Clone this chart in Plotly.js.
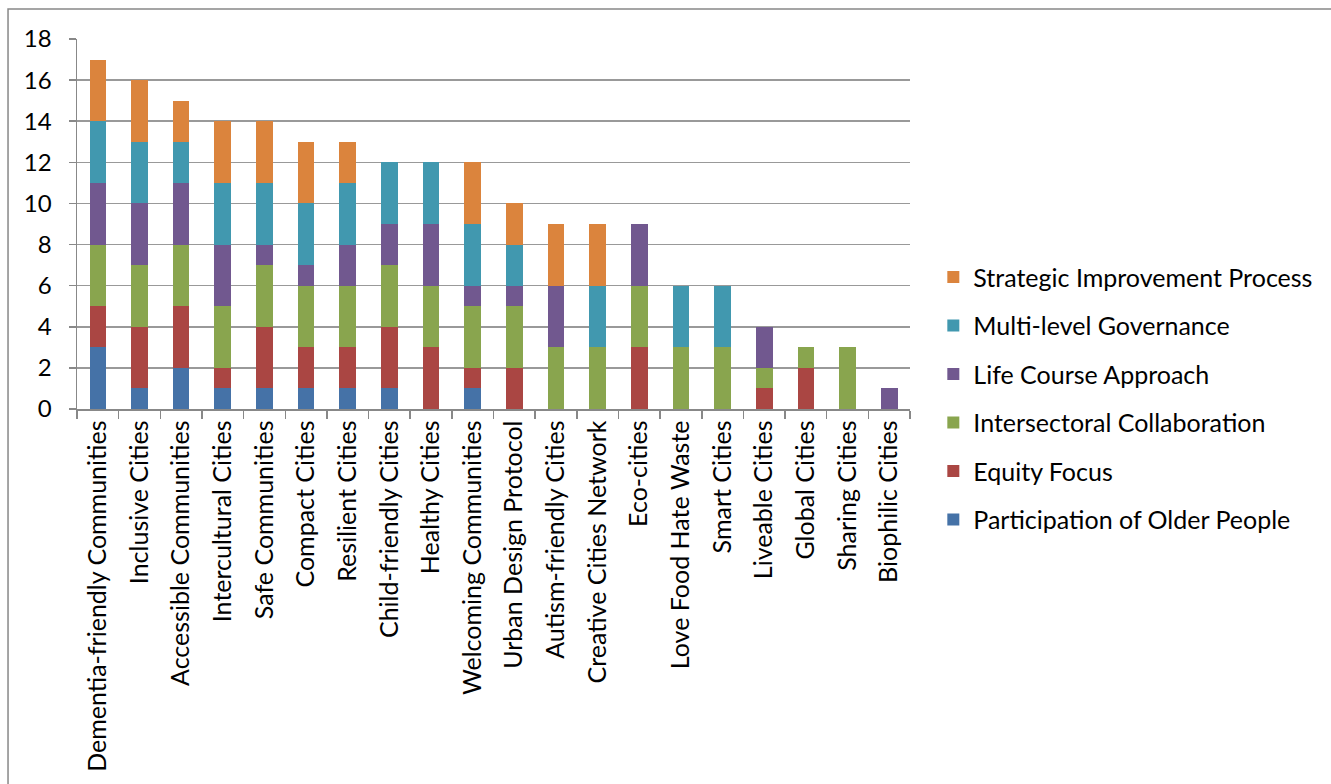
<!DOCTYPE html>
<html>
<head>
<meta charset="utf-8">
<script src="https://cdn.plot.ly/plotly-3.0.1.min.js"></script>
<style>html,body{margin:0;padding:0;background:#fff;}#chart{width:1331px;height:784px;}</style>
</head>
<body>
<div id="chart"></div>
<script>
const categories = ["Dementia-friendly Communities","Inclusive Cities","Accessible Communities","Intercultural Cities","Safe Communities","Compact Cities","Resilient Cities","Child-friendly Cities","Healthy Cities","Welcoming Communities","Urban Design Protocol","Autism-friendly Cities","Creative Cities Network","Eco-cities","Love Food Hate Waste","Smart Cities","Liveable Cities","Global Cities","Sharing Cities","Biophilic Cities"];
const participation = [3,1,2,1,1,1,1,1,0,1,0,0,0,0,0,0,0,0,0,0];
const equity        = [2,3,3,1,3,2,2,3,3,1,2,0,0,3,0,0,1,2,0,0];
const intersectoral = [3,3,3,3,3,3,3,3,3,3,3,3,3,3,3,3,1,1,3,0];
const lifeCourse    = [3,3,3,3,1,1,2,2,3,1,1,3,0,3,0,0,2,0,0,1];
const multiLevel    = [3,3,2,3,3,3,3,3,3,3,2,0,3,0,3,3,0,0,0,0];
const strategic     = [3,3,2,3,3,3,2,0,0,3,2,3,3,0,0,0,0,0,0,0];
const yTicks = [0,2,4,6,8,10,12,14,16,18];

const series = [
  {name:"Participation of Older People", y:participation, color:"#4572A7"},
  {name:"Equity Focus", y:equity, color:"#AA4643"},
  {name:"Intersectoral Collaboration", y:intersectoral, color:"#89A54E"},
  {name:"Life Course Approach", y:lifeCourse, color:"#71588F"},
  {name:"Multi-level Governance", y:multiLevel, color:"#4198AF"},
  {name:"Strategic Improvement Process", y:strategic, color:"#DB843D"}
];

const data = series.map((s,i) => ({
  type:"bar", x:categories, y:s.y, name:s.name, legendgroup:"g"+i, legendrank:1000-i,
  marker:{color:s.color, line:{width:0}}, hoverinfo:"x+y+name"
}));

const font = "Lato, 'Open Sans', sans-serif";
const layout = {
  width:1331, height:784,
  barmode:"stack", bargap:0.6,
  margin:{l:77, r:421, t:39, b:375},
  paper_bgcolor:"#fff", plot_bgcolor:"#fff",
  font:{family:font, size:24, color:"#000"},
  xaxis:{type:"category", tickangle:-90, tickson:"boundaries", ticks:"outside", ticklen:8, tickcolor:"#888", tickwidth:1.5,
         showline:true, linecolor:"#888", linewidth:1.5, showgrid:false, tickfont:{size:25, family:font}, automargin:false},
  yaxis:{range:[0,18], tickvals:yTicks, ticks:"outside", ticklen:7, tickcolor:"#888", tickwidth:1.5, ticklabelstandoff:12,
         showline:true, linecolor:"#888", linewidth:1.5, showgrid:true, gridcolor:"#999", gridwidth:1.5,
         zeroline:false, tickfont:{size:24, family:font}, automargin:false},
  legend:{x:1.028, xanchor:"left", y:0.418, yanchor:"top", traceorder:"grouped", tracegroupgap:13,
          font:{size:25, family:font}, bgcolor:"rgba(0,0,0,0)"},
  shapes:[{type:"rect", xref:"paper", yref:"paper", x0:-0.0828, x1:1.7, y0:-1.2, y1:1.081,
           line:{color:"#888", width:1.5}, fillcolor:"rgba(0,0,0,0)", layer:"below"}]
};
Plotly.newPlot("chart", data, layout, {staticPlot:true});
</script>
</body>
</html>
